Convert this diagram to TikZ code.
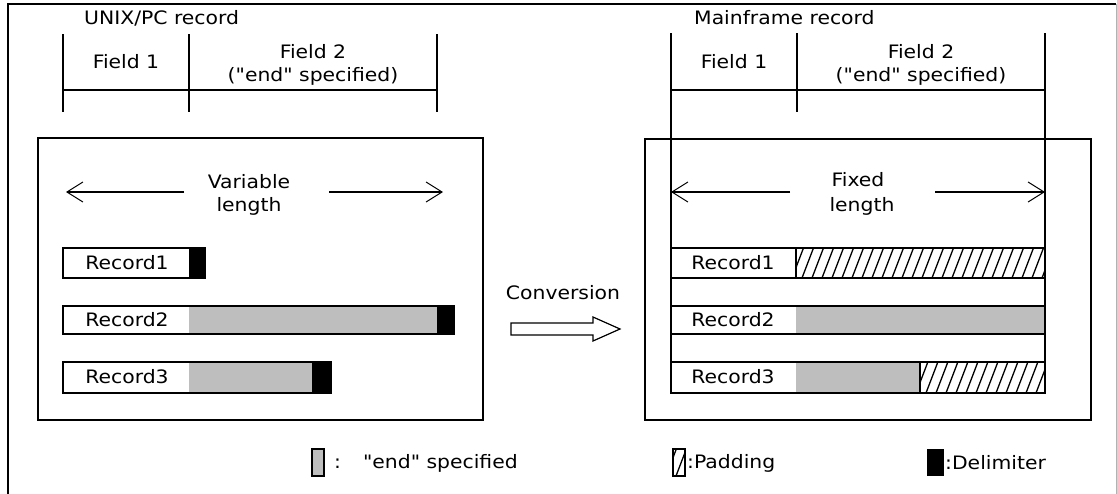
\documentclass[tikz,border=0pt]{standalone}
\usepackage{fontspec}
\setmainfont{DejaVu Sans}[FakeStretch=1.1, Ligatures=TeXOff]
\usetikzlibrary{arrows.meta}
\definecolor{endgray}{RGB}{190,190,190}
\tikzset{
  lbl/.style={inner sep=0pt, font=\fontsize{18.5}{22}\selectfont},
  ln/.style={line width=1.6pt},
  dim/.style={line width=1.2pt, -{Straight Barb[length=16pt,width=20pt,line width=1pt]}},
  hatchline/.style={line width=1.3pt},
}
\newcommand{\hatchbox}[4]{%
  \begin{scope}
    \clip (#1,#2) rectangle (#3,#4);
    \pgfmathsetmacro{\hstart}{#1-14}
    \foreach \k in {0,...,40}{
      \pgfmathsetmacro{\hxx}{\hstart+10*\k}
      \draw[hatchline] (\hxx,#4) -- ++(13,-34);
    }
  \end{scope}
  \draw[ln] (#1,#2) rectangle (#3,#4);
}
\begin{document}
\begin{tikzpicture}[x=1pt,y=-1pt]
\useasboundingbox (0,0) rectangle (1117,493);
% outer frame
\draw[ln] (8,500) -- (8,4) -- (1116,4);
\draw[line width=1pt, gray!60] (1116,4) -- (1116,500);

% ---------- left: UNIX/PC record ----------
\node[lbl, anchor=west] (unixtitle) at (84,18) {UNIX/PC record};
\draw[ln] (63,34) -- (63,112) (189,34) -- (189,112) (437,34) -- (437,112);
\draw[ln] (63,90) -- (437,90);
\node[lbl] (lf1) at (126,62) {Field 1};
\node[lbl] (lf2a) at (313,52) {Field 2};
\node[lbl] (lf2b) at (313,76) {("end" specified)};

\node[draw, line width=1.6pt, minimum width=445pt, minimum height=282pt, anchor=north west, inner sep=0pt] (lbox) at (37,137) {};

\node[lbl] (var1) at (249,182) {Variable};
\node[lbl] (var2) at (249,206) {length};
\coordinate (lva) at (184,192); \coordinate (lvb) at (66,192);
\coordinate (lvc) at (329,192); \coordinate (lvd) at (443,192);
\draw[dim] (lva) -- (lvb);
\draw[dim] (lvc) -- (lvd);

% records (left)
\fill[black] (189,248) rectangle (205,278);
\draw[ln] (63,248) rectangle (205,278);
\node[lbl] (lr1) at (127,263) {Record1};

\fill[endgray] (189,306) rectangle (437,334);
\fill[black] (437,306) rectangle (454,334);
\draw[ln] (63,306) rectangle (454,334);
\node[lbl] (lr2) at (127,320) {Record2};

\fill[endgray] (189,362) rectangle (312,393);
\fill[black] (312,362) rectangle (331,393);
\draw[ln] (63,362) rectangle (331,393);
\node[lbl] (lr3) at (127,377) {Record3};

% ---------- conversion arrow ----------
\node[lbl] (conv) at (563,293) {Conversion};
\draw[line width=1.2pt] (511,323) -- (593,323) -- (593,317) -- (620,329) -- (593,341) -- (593,335) -- (511,335) -- cycle;

% ---------- right: Mainframe record ----------
\node[lbl, anchor=west] (mftitle) at (694,18) {Mainframe record};
\node[draw, line width=1.6pt, minimum width=446pt, minimum height=281pt, anchor=north west, inner sep=0pt] (rbox) at (644,138) {};
\draw[ln] (671,33) -- (671,393) (797,33) -- (797,112) (1045,33) -- (1045,393);
\draw[ln] (671,90) -- (1045,90);
\node[lbl] (rf1) at (734,62) {Field 1};
\node[lbl] (rf2a) at (921,52) {Field 2};
\node[lbl] (rf2b) at (921,76) {("end" specified)};

\node[lbl] (fix1) at (858,180) {Fixed};
\node[lbl] (fix2) at (862,206) {length};
\coordinate (rva) at (790,192); \coordinate (rvb) at (671,192);
\coordinate (rvc) at (935,192); \coordinate (rvd) at (1045,192);
\draw[dim] (rva) -- (rvb);
\draw[dim] (rvc) -- (rvd);

% records (right)
\hatchbox{796}{248}{1045}{278}
\draw[ln] (671,248) rectangle (1045,278);
\node[lbl] (rr1) at (733,263) {Record1};

\fill[endgray] (796,306) rectangle (1045,334);
\draw[ln] (671,306) rectangle (1045,334);
\node[lbl] (rr2) at (733,320) {Record2};

\fill[endgray] (796,362) rectangle (920,393);
\hatchbox{920}{362}{1045}{393}
\draw[ln] (671,362) rectangle (1045,393);
\node[lbl] (rr3) at (733,377) {Record3};

% ---------- legend ----------
\draw[line width=1.2pt, fill=endgray] (312,449) rectangle (324,476);
\node[lbl, anchor=west] (leg1) at (334,463) {:\hspace{22pt}"end" specified};
\begin{scope}
  \clip (673,449) rectangle (685,476);
  \draw[hatchline] (666,476) -- ++(13,-34);
  \draw[hatchline] (676,476) -- ++(13,-34);
\end{scope}
\draw[line width=1.2pt] (673,449) rectangle (685,476);
\node[lbl, anchor=west] (leg2) at (687,463) {:Padding};
\fill[black] (927,449) rectangle (944,476);
\node[lbl, anchor=west] (leg3) at (945,463) {:Delimiter};
\end{tikzpicture}
\end{document}
